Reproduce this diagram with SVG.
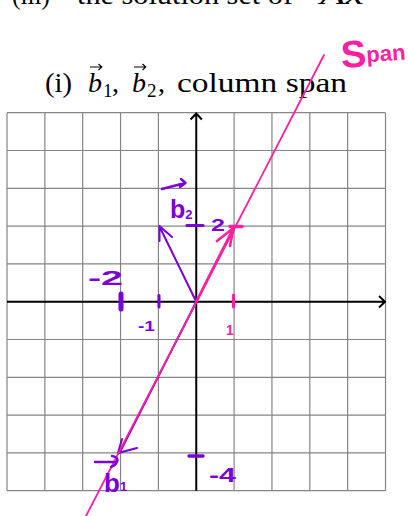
<svg xmlns="http://www.w3.org/2000/svg" width="408" height="516" viewBox="0 0 408 516">
<style>
.serif{font-family:"Liberation Serif","Times New Roman",serif;fill:#000}
.hand{font-family:"Liberation Sans",Arial,sans-serif;font-weight:bold}
.purple{fill:#7B00D8}
.pink{fill:#FF1FA0}
.grid{stroke:#858585;stroke-width:1.2;fill:none}
.axis{stroke:#000;stroke-width:2;fill:none}
.pv{stroke:#7B00D8;fill:none;stroke-linecap:round;stroke-linejoin:round}
.pk{stroke:#FF1FA0;fill:none;stroke-linecap:round;stroke-linejoin:round}
.vecarrow{stroke:#000;stroke-width:1.1;fill:none}
</style>
<rect width="408" height="516" fill="#fff"/>
<g id="header">
<text class="serif" x="12" y="4" font-size="28" textLength="38" lengthAdjust="spacingAndGlyphs">(iii)</text>
<text class="serif" x="77" y="4" font-size="28" textLength="216" lengthAdjust="spacingAndGlyphs">the solution set of</text>
<text class="serif" x="320" y="4" font-size="28" font-style="italic" textLength="44" lengthAdjust="spacingAndGlyphs">Ax</text>
</g>
<g id="title">
<text class="serif" x="45" y="91.7" font-size="28" textLength="27" lengthAdjust="spacingAndGlyphs">(i)</text>
<text class="serif" x="88" y="91.7" font-size="28" font-style="italic">b</text>
<text class="serif" x="103" y="96.5" font-size="19">1</text>
<text class="serif" x="112" y="91.7" font-size="28">,</text>
<text class="serif" x="132" y="91.7" font-size="28" font-style="italic">b</text>
<text class="serif" x="147" y="96.5" font-size="19">2</text>
<text class="serif" x="158" y="91.7" font-size="28">,</text>
<text class="serif" x="177" y="91.7" font-size="28" textLength="170" lengthAdjust="spacingAndGlyphs">column span</text>
<path class="vecarrow" d="M90,67 H101.5 M98.5,64 L101.8,67 L98.5,70"/>
<path class="vecarrow" d="M134,67 H145.5 M142.5,64 L145.8,67 L142.5,70"/>
</g>
<g id="grid">
<path class="grid" d="M7,112.7 V490.7 M44.85,112.7 V490.7 M82.7,112.7 V490.7 M120.55,112.7 V490.7 M158.4,112.7 V490.7 M234.1,112.7 V490.7 M271.95,112.7 V490.7 M309.8,112.7 V490.7 M347.65,112.7 V490.7 M385.5,112.7 V490.7
M7,112.7 H385.5 M7,150.5 H385.5 M7,188.3 H385.5 M7,226.1 H385.5 M7,263.9 H385.5 M7,339.5 H385.5 M7,377.3 H385.5 M7,415.1 H385.5 M7,452.9 H385.5 M7,490.7 H385.5"/>
</g>
<g id="axes">
<path class="axis" d="M7,301.7 H384.5 M379,296 L385,301.7 L379,307.4"/>
<path class="axis" d="M196.25,490.7 V113.7 M190.6,119.5 L196.25,113.5 L201.9,119.5"/>
</g>
<g id="connectors">
<path class="pv" stroke-width="2" d="M196.25,301.7 L159.5,226.5 M159.5,241 L159.5,226 L172,237"/>
<path class="pv" stroke-width="2" d="M196.25,301.7 L119.5,453 M122,439 L118,453 L137,448"/>
<path class="pk" stroke-width="1.8" d="M86,516 L324,55"/>
<path class="pk" stroke-width="2.6" d="M196.25,301.7 L234,227 M217,241 L233.5,228 L230,246"/>
</g>
<g id="ticks">
<path class="pv" stroke-width="3.2" d="M187,225.5 H203"/>
<path class="pk" stroke-width="3.6" d="M230,226.5 H242"/>
<path class="pk" stroke-width="3" d="M233.5,295 V307"/>
<path class="pv" stroke-width="5" d="M121,294 V309"/>
<path class="pv" stroke-width="3" d="M159,295.5 V307"/>
<path class="pv" stroke-width="3.4" d="M189,456 H203"/>
</g>
<g id="labels">
<text class="hand purple" x="211" y="231" font-size="17" textLength="14" lengthAdjust="spacingAndGlyphs">2</text>
<text class="hand purple" x="88" y="285" font-size="21" textLength="35" lengthAdjust="spacingAndGlyphs">-2</text>
<text class="hand purple" x="138" y="331" font-size="15" textLength="17" lengthAdjust="spacingAndGlyphs">-1</text>
<text class="hand pink" x="226" y="335" font-size="14">1</text>
<text class="hand purple" x="209" y="482" font-size="21" textLength="27" lengthAdjust="spacingAndGlyphs">-4</text>
<text class="hand purple" x="170" y="218" font-size="25">b<tspan font-size="13" dy="1">2</tspan></text>
<path class="pv" stroke-width="2.4" d="M162,189 L185,183 M181,179 L185.5,183 L180,187"/>
<text class="hand purple" x="104" y="492" font-size="26">b<tspan font-size="13" dy="-1">1</tspan></text>
<path class="pv" stroke-width="2.4" d="M95,462 H116 M112,456 Q119,457 117,462 Q115,466 111,467"/>
<text class="hand pink" x="341" y="66" font-size="38" transform="rotate(-4 370 55)">S<tspan font-size="22" dy="-4">pan</tspan></text>
</g>
</svg>
